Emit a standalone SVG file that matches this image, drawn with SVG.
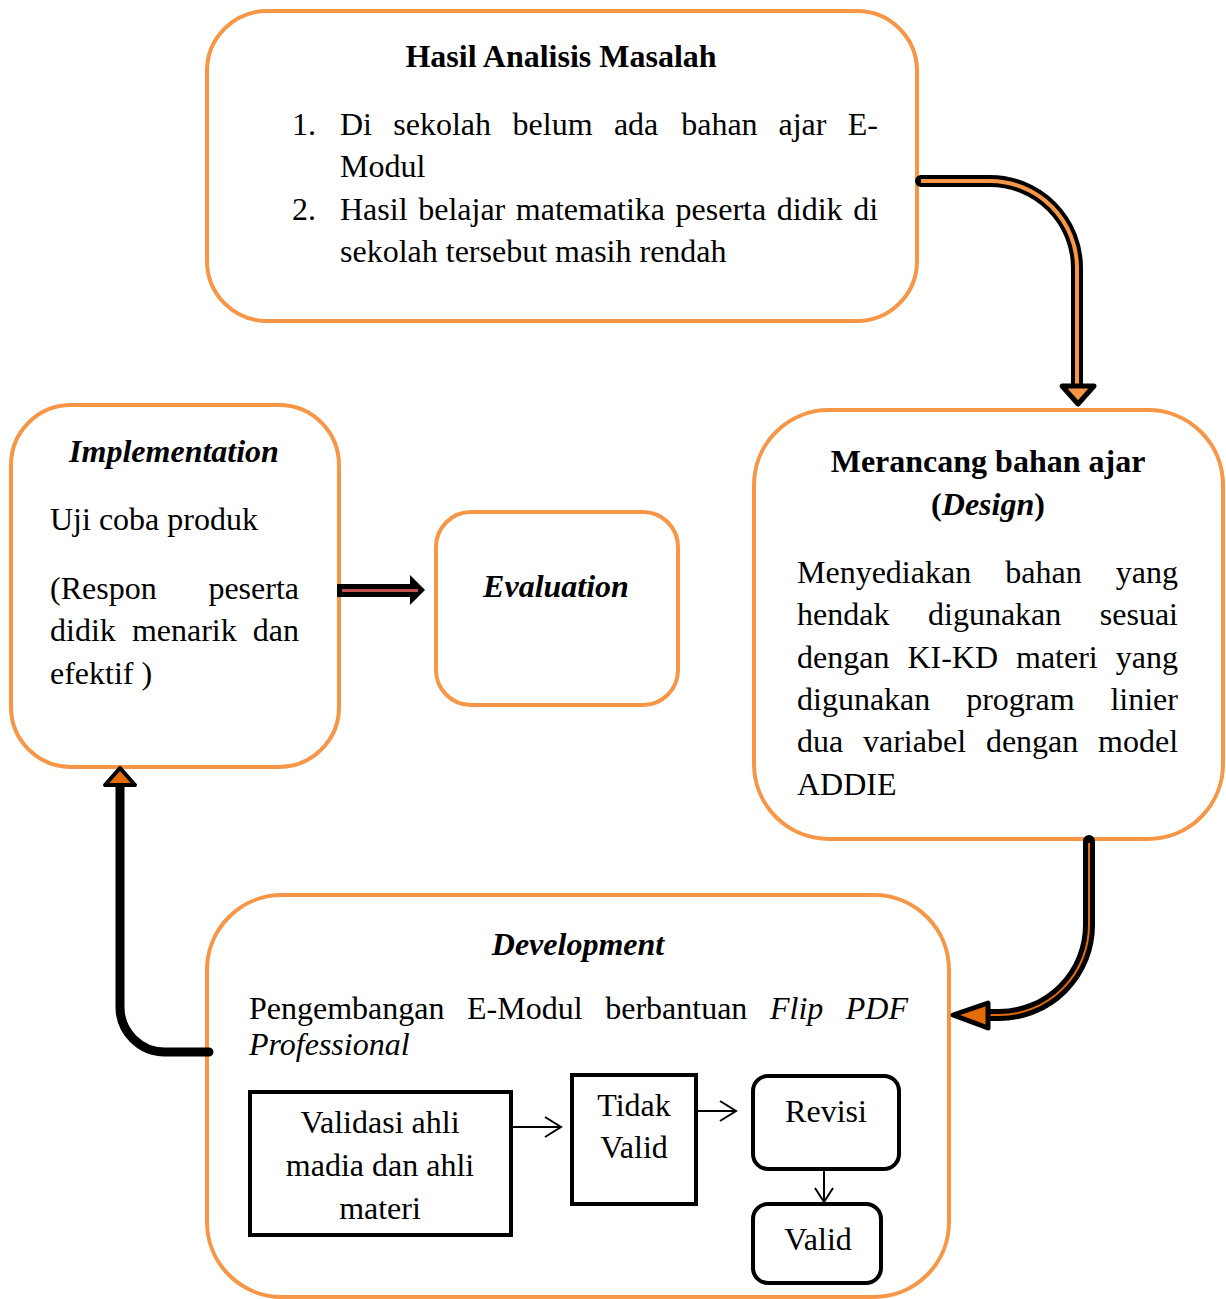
<svg xmlns="http://www.w3.org/2000/svg" width="1226" height="1299" viewBox="0 0 1226 1299">
<style>
.ob{fill:#fff;stroke:#F79646;stroke-width:4}
.bb{fill:#fff;stroke:#000;stroke-width:4}
text{font-family:"Liberation Serif","Times New Roman",serif;font-size:32px;fill:#000}
.b{font-weight:bold}
.bi{font-weight:bold;font-style:italic}
.i{font-style:italic}
.c{text-anchor:middle}
.thin{fill:none;stroke:#000;stroke-width:2}
</style>
<rect width="1226" height="1299" fill="#fff"/>
<g id="hasil">
  <rect class="ob" x="207" y="11" width="710" height="310" rx="60"/>
  <text class="b c" x="561" y="67">Hasil Analisis Masalah</text>
  <text x="292" y="135">1.</text>
  <text y="135"><tspan x="340">Di</tspan><tspan x="393.3">sekolah</tspan><tspan x="512.6">belum</tspan><tspan x="613.9">ada</tspan><tspan x="681.2">bahan</tspan><tspan x="778.5">ajar</tspan><tspan x="847.8">E-</tspan></text>
  <text x="340" y="177">Modul</text>
  <text x="292" y="220">2.</text>
  <text y="220"><tspan x="340">Hasil</tspan><tspan x="418.2">belajar</tspan><tspan x="515.8">matematika</tspan><tspan x="675.6">peserta</tspan><tspan x="776.8">didik</tspan><tspan x="853.2">di</tspan></text>
  <text x="340" y="262">sekolah tersebut masih rendah</text>
</g>
<g id="design">
  <rect class="ob" x="754" y="410" width="469" height="429" rx="75"/>
  <text class="b c" x="988" y="472">Merancang bahan ajar</text>
  <text class="b c" x="988" y="515">(<tspan class="bi">Design</tspan>)</text>
  <text y="583"><tspan x="797">Menyediakan</tspan><tspan x="1005.3">bahan</tspan><tspan x="1115.8">yang</tspan></text>
  <text y="625"><tspan x="797">hendak</tspan><tspan x="928">digunakan</tspan><tspan x="1099.8">sesuai</tspan></text>
  <text y="668"><tspan x="797">dengan</tspan><tspan x="907.4">KI-KD</tspan><tspan x="1016">materi</tspan><tspan x="1115.8">yang</tspan></text>
  <text y="710"><tspan x="797">digunakan</tspan><tspan x="966.2">program</tspan><tspan x="1110.4">linier</tspan></text>
  <text y="752"><tspan x="797">dua</tspan><tspan x="863">variabel</tspan><tspan x="985.9">dengan</tspan><tspan x="1098.1">model</tspan></text>
  <text x="797" y="795">ADDIE</text>
</g>
<g id="implementation">
  <rect class="ob" x="11" y="405" width="328" height="362" rx="60"/>
  <text class="bi c" x="174" y="462">Implementation</text>
  <text x="50" y="530">Uji coba produk</text>
  <text y="599"><tspan x="50">(Respon</tspan><tspan x="208.4">peserta</tspan></text>
  <text y="641"><tspan x="50">didik</tspan><tspan x="131.9">menarik</tspan><tspan x="252.8">dan</tspan></text>
  <text x="50" y="684">efektif )</text>
</g>
<g id="evaluation">
  <rect class="ob" x="436" y="512" width="242" height="193" rx="35"/>
  <text class="bi c" x="556" y="597">Evaluation</text>
</g>
<g id="development">
  <rect class="ob" x="207" y="895" width="742" height="402" rx="75"/>
  <text class="bi c" x="578" y="955">Development</text>
  <text y="1019"><tspan x="249">Pengembangan</tspan><tspan x="467">E-Modul</tspan><tspan x="605.2">berbantuan</tspan><tspan class="i" x="770">Flip</tspan><tspan class="i" x="845.8">PDF</tspan></text>
  <text class="i" x="249" y="1055">Professional</text>
</g>
<g id="validasi">
  <rect class="bb" x="250" y="1092" width="261" height="143"/>
  <text class="c" x="380" y="1133">Validasi ahli</text>
  <text class="c" x="380" y="1176">madia dan ahli</text>
  <text class="c" x="380" y="1219">materi</text>
</g>
<g id="tidakvalid">
  <rect class="bb" x="572" y="1075" width="124" height="129"/>
  <text class="c" x="634" y="1116">Tidak</text>
  <text class="c" x="634" y="1158">Valid</text>
</g>
<g id="revisi">
  <rect class="bb" x="753" y="1076" width="146" height="93" rx="15"/>
  <text class="c" x="826" y="1122">Revisi</text>
</g>
<g id="valid">
  <rect class="bb" x="753" y="1204" width="128" height="79" rx="15"/>
  <text class="c" x="818" y="1250">Valid</text>
</g>
<g id="connectors">
  <path d="M921 181 H990 A87 87 0 0 1 1077 268 V386" fill="none" stroke="#000" stroke-width="12" stroke-linecap="round"/>
  <path d="M921 181 H990 A87 87 0 0 1 1077 268 V386" fill="none" stroke="#F79646" stroke-width="4"/>
  <polygon points="1062,386 1094,386 1078,404" fill="#F79646" stroke="#000" stroke-width="5" stroke-linejoin="round"/>
  <path d="M1089 841 V925 A90 90 0 0 1 999 1015 H987" fill="none" stroke="#000" stroke-width="12" stroke-linecap="round"/>
  <path d="M1089 843 V925 A90 90 0 0 1 999 1015 H987" fill="none" stroke="#E36C09" stroke-width="2"/>
  <polygon points="988,1003 988,1028 953,1015" fill="#E36C09" stroke="#000" stroke-width="5" stroke-linejoin="round"/>
  <path d="M209 1052 H165 A45 45 0 0 1 120 1007 V786" fill="none" stroke="#000" stroke-width="9" stroke-linecap="round"/>
  <polygon points="105,785 135,785 120,768" fill="#E36C09" stroke="#000" stroke-width="4" stroke-linejoin="round"/>
  <rect x="337" y="584" width="75" height="13" fill="#000"/>
  <polygon points="410,575 425,590 410,605" fill="#000"/>
  <line x1="342" y1="590.5" x2="418" y2="590.5" stroke="#C0504D" stroke-width="3"/>
  <path class="thin" d="M511 1127 H561 M545 1117 L561 1127 L545 1137"/>
  <path class="thin" d="M696 1111 H736 M720 1101 L736 1111 L720 1121"/>
  <path class="thin" d="M824 1169 V1202 M815 1188 L824 1202 L833 1188"/>
</g>
</svg>
